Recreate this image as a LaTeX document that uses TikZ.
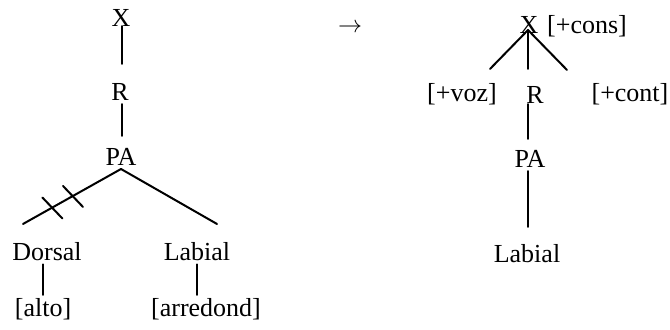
\documentclass[tikz,border=0pt]{standalone}
\usepackage{fontspec}
\setmainfont{Liberation Serif}
\begin{document}
\begin{tikzpicture}[
		x=0.5pt, y=-0.5pt, font=\fontsize{13}{15}\selectfont,
		line join=round, line cap=round, line width=1pt,
		seg/.style={inner sep=0pt, anchor=base},
		]
		\useasboundingbox (0,0) rectangle (670,329);
		\node[seg] (X) at (121,26) {X};
		\node[seg] (R) at (120,100) {R};
		\node[seg] (PA) at (121,165) {PA};
		\node[seg] (Dorsal) at (47,260) {Dorsal};
		\node[seg] (Labial) at (197,260) {Labial};
		\node[seg] (alto) at (43,316) {[alto]};
		\node[seg] (arredond) at (206,316) {[arredond]};
		\node (arrow) at (350,28) {$\rightarrow$};
		\node[seg] (X2) at (529,33) {X};
		\node[seg] (cons) at (587,33) {[+cons]};
		\node[seg] (voz) at (462,101) {[+voz]};
		\node[seg] (R2) at (535,103) {R};
		\node[seg] (cont) at (630,101) {[+cont]};
		\node[seg] (PA2) at (530,167) {PA};
		\node[seg] (Labial2) at (527,262) {Labial};
		\draw[shorten >=9pt] ([xshift=0.5pt]X.base) -- ([xshift=0.5pt]X.base |- R.north);
		\draw[shorten <=1.5pt, shorten >=5.5pt] ([xshift=0.5pt]X.base |- R.south) -- ([xshift=0.5pt]X.base |- PA.north);
		\coordinate (apex) at ([yshift=-1.5pt]PA.south);
		\draw (apex) -- ([shift={(-24,-17)}]Dorsal.north) coordinate[pos=0.49] (t1) coordinate[pos=0.70] (t2);
		\draw (apex) -- ([shift={(20,-17)}]Labial.north);
		\foreach \t in {t1,t2}
		\draw ([shift={(-10,-10)}]\t) -- ([shift={(10,11)}]\t);
		\draw[shorten <=1.5pt, shorten >=1pt] (alto.north |- Dorsal.south) -- (alto.north);
		\draw[shorten <=1.5pt, shorten >=1pt] (Labial.south) -- (Labial.south |- arredond.north);
		\coordinate (apex2) at ([shift={(-1,-3)}]X2.base);
		\draw (apex2) -- ([shift={(28,-13)}]voz.north);
		\draw[shorten >=8pt] (apex2) -- (apex2 |- R2.north);
		\draw (apex2) -- ([shift={(-63,-12)}]cont.north);
		\draw[shorten >=5pt] (apex2 |- R2.south) -- (apex2 |- PA2.north);
		\draw[shorten <=1.5pt, shorten >=8pt] (apex2 |- PA2.south) -- (apex2 |- Labial2.north);
\end{tikzpicture}
\end{document}
